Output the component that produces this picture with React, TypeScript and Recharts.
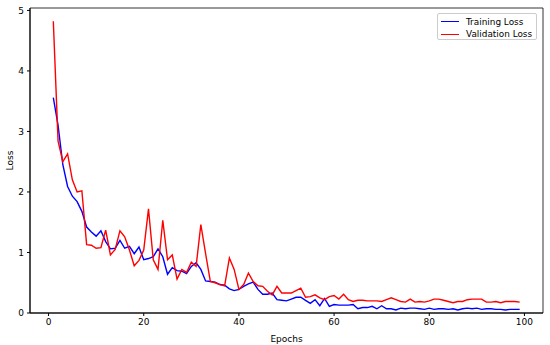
import { LineChart, Line, XAxis, YAxis, ReferenceArea } from 'recharts'

// loss per epoch, epochs 1..99
const trainLoss = [
  3.56, 3.1, 2.45, 2.09, 1.93, 1.84, 1.68, 1.42, 1.34, 1.27,
  1.36, 1.18, 1.06, 1.07, 1.2, 1.07, 1.1, 0.98, 1.09, 0.88,
  0.9, 0.93, 1.06, 0.93, 0.64, 0.75, 0.7, 0.69, 0.65, 0.77,
  0.83, 0.72, 0.53, 0.52, 0.51, 0.47, 0.46, 0.4, 0.37, 0.39,
  0.44, 0.48, 0.51, 0.39, 0.31, 0.31, 0.33, 0.22, 0.21, 0.2,
  0.23, 0.26, 0.26, 0.21, 0.16, 0.22, 0.12, 0.24, 0.11, 0.14,
  0.13, 0.13, 0.13, 0.14, 0.07, 0.09, 0.09, 0.11, 0.07, 0.12,
  0.07, 0.07, 0.05, 0.08, 0.07, 0.08, 0.08, 0.07, 0.06, 0.08,
  0.06, 0.07, 0.07, 0.06, 0.07, 0.05, 0.07, 0.08, 0.07, 0.08,
  0.06, 0.07, 0.07, 0.06, 0.06, 0.05, 0.06, 0.06, 0.06,
]

const valLoss = [
  4.82, 2.84, 2.5, 2.63, 2.2, 2.0, 2.02, 1.13, 1.12, 1.07,
  1.08, 1.37, 0.96, 1.05, 1.36, 1.26, 1.04, 0.78, 0.87, 1.04,
  1.72, 0.88, 0.72, 1.53, 0.88, 0.96, 0.56, 0.72, 0.67, 0.84,
  0.77, 1.46, 0.98, 0.52, 0.5, 0.47, 0.45, 0.91, 0.72, 0.39,
  0.47, 0.66, 0.52, 0.45, 0.44, 0.36, 0.3, 0.44, 0.33, 0.33,
  0.33, 0.37, 0.41, 0.26, 0.27, 0.3, 0.25, 0.22, 0.27, 0.29,
  0.23, 0.31, 0.22, 0.19, 0.21, 0.21, 0.2, 0.2, 0.2, 0.19,
  0.22, 0.25, 0.22, 0.19, 0.18, 0.23, 0.18, 0.19, 0.18, 0.2,
  0.23, 0.23, 0.21, 0.19, 0.17, 0.19, 0.19, 0.22, 0.23, 0.23,
  0.23, 0.18, 0.18, 0.19, 0.17, 0.19, 0.19, 0.19, 0.18,
]

const xTicks = [0, 20, 40, 60, 80, 100]
const yTicks = [0, 1, 2, 3, 4, 5]
const seriesNames = ['Training Loss', 'Validation Loss']
const seriesColors = ['#0000ff', '#ff0000']

const data = trainLoss.map((v, i) => ({ epoch: i + 1, train: v, val: valLoss[i] }))

const X_DOMAIN: [number, number] = [-3.9, 103.9]
const Y_DOMAIN: [number, number] = [0, 5.04]
const FONT = '"DejaVu Sans", sans-serif'
const tickStyle = { fontSize: 9, fill: '#000', fontFamily: FONT }

// matplotlib-style legend box, drawn over the chart (upper right)
function MplLegend() {
  return (
    <div style={s.legendBox}>
      {seriesNames.map((name, i) => (
        <div key={name} style={{ ...s.legendRow, top: 1.5 + i * 12.7 }}>
          <span style={{ ...s.handle, background: seriesColors[i] }} />
          <span style={s.legendText}>{name}</span>
        </div>
      ))}
    </div>
  )
}

export default function App() {
  return (
    <div style={{ position: 'absolute', left: 0, top: 0, width: 550, height: 345 }}>
      <LineChart width={550} height={345} data={data} margin={{ top: 8, right: 7, bottom: 0, left: 0 }}>
        <XAxis
          dataKey="epoch"
          type="number"
          domain={X_DOMAIN}
          ticks={xTicks}
          allowDataOverflow
          height={32}
          tickSize={3}
          tickMargin={3}
          stroke="#000"
          tick={tickStyle}
          label={{ value: 'Epochs', position: 'insideBottom', offset: 3, style: { fontSize: 9, fill: '#000', fontFamily: FONT } }}
        />
        <YAxis
          type="number"
          domain={Y_DOMAIN}
          ticks={yTicks}
          allowDataOverflow
          width={30}
          tickSize={3}
          tickMargin={3}
          stroke="#000"
          tick={tickStyle}
          label={{ value: 'Loss', angle: -90, position: 'insideLeft', offset: 10, style: { textAnchor: 'middle', fontSize: 9, fill: '#000', fontFamily: FONT } }}
        />
        <ReferenceArea x1={X_DOMAIN[0]} x2={X_DOMAIN[1]} y1={Y_DOMAIN[0]} y2={Y_DOMAIN[1]} fill="none" stroke="#000" strokeWidth={0.8} />
        <Line dataKey="train" stroke={seriesColors[0]} strokeWidth={1.4} dot={false} isAnimationActive={false} />
        <Line dataKey="val" stroke={seriesColors[1]} strokeWidth={1.4} dot={false} isAnimationActive={false} />
      </LineChart>
      <MplLegend />
    </div>
  )
}

const s: Record<string, React.CSSProperties> = {
  legendBox: {
    position: 'absolute',
    left: 437,
    top: 13,
    width: 100,
    height: 27,
    boxSizing: 'border-box',
    border: '1px solid #cccccc',
    borderRadius: 2,
    background: 'rgba(255,255,255,0.8)',
    fontFamily: FONT,
  },
  legendRow: {
    position: 'absolute',
    left: 0,
    height: 12,
    width: '100%',
  },
  handle: {
    position: 'absolute',
    left: 3,
    top: 5.5,
    width: 18,
    height: 1.4,
  },
  legendText: {
    position: 'absolute',
    left: 28,
    top: 0,
    fontSize: 8.9,
    lineHeight: '12px',
    color: '#000',
    whiteSpace: 'nowrap',
  },
}
